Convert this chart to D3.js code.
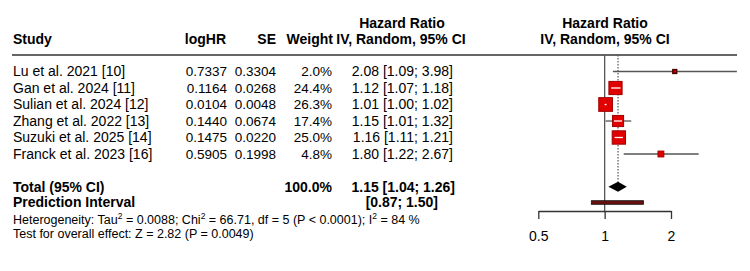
<!DOCTYPE html>
<html><head><meta charset="utf-8">
<script src="https://cdn.jsdelivr.net/npm/d3@7"></script>
<style>
html,body{margin:0;padding:0;background:#fff;}
svg{display:block;font-family:"Liberation Sans",Arial,Helvetica,sans-serif;}
</style></head>
<body><svg id="c" width="750" height="271"></svg>
<script>
const studies = ["Lu et al. 2021 [10]","Gan et al. 2024 [11]","Sulian et al. 2024 [12]","Zhang et al. 2022 [13]","Suzuki et al. 2025 [14]","Franck et al. 2023 [16]"];
const logHR = ["0.7337","0.1164","0.0104","0.1440","0.1475","0.5905"];
const seVals = ["0.3304","0.0268","0.0048","0.0674","0.0220","0.1998"];
const weights = [2.0,24.4,26.3,17.4,25.0,4.8];
const hr = [2.08,1.12,1.01,1.15,1.16,1.80];
const lower = [1.09,1.07,1.00,1.01,1.11,1.22];
const upper = [3.98,1.18,1.02,1.32,1.21,2.67];
const totalEst = [1.15,1.04,1.26];
const predInt = [0.87,1.50];
const totalWeight = "100.0%";
const ticks = [0.5,1,2];
const hetText = ["Heterogeneity: Tau","2"," = 0.0088; Chi","2"," = 66.71, df = 5 (P < 0.0001); I","2"," = 84 %"];
const testText = "Test for overall effect: Z = 2.82 (P = 0.0049)";

const svg = d3.select("#c");
const FS = 14, FN = 13.5, FH = 12.5;
const f2 = d3.format(".2f");
const x = d3.scaleLog().domain([0.5,2]).range([538.3,671]);
const rowY = d3.scaleLinear().domain([0,5]).range([71.5,154]);
const yTotal = 186.7, yPred = 202.5, yHet = 219.5, yTest = 234;
const yAxis = 211;

function txt(xp,yp,s,anchor,bold,size){
  return svg.append("text").attr("x",xp).attr("y",yp).attr("dy","0.35em")
    .attr("text-anchor",anchor||"start").attr("font-weight",bold?"bold":"normal")
    .attr("font-size",size||FS).attr("fill","#000").text(s);
}
// headers
txt(402,23,"Hazard Ratio","middle",true);
txt(13,39,"Study","start",true);
txt(226,39,"logHR","end",true);
txt(276,39,"SE","end",true);
txt(333,39,"Weight","end",true);
txt(401,39,"IV, Random, 95% CI","middle",true);
txt(605,23,"Hazard Ratio","middle",true);
txt(605,39,"IV, Random, 95% CI","middle",true);
svg.append("line").attr("x1",12).attr("x2",737).attr("y1",55).attr("y2",55).attr("stroke","#333").attr("stroke-width",1.4);

// rows
studies.forEach((s,i)=>{
  const y = rowY(i);
  txt(13,y,s);
  txt(227,y,logHR[i],"end",false,FN);
  txt(276,y,seVals[i],"end",false,FN);
  txt(332,y,weights[i].toFixed(1)+"%","end",false,FN);
  txt(453,y,f2(hr[i])+" ["+f2(lower[i])+"; "+f2(upper[i])+"]","end");
});
txt(13,yTotal,"Total (95% CI)","start",true);
txt(332,yTotal,totalWeight,"end",true);
txt(455,yTotal,f2(totalEst[0])+" ["+f2(totalEst[1])+"; "+f2(totalEst[2])+"]","end",true);
txt(13,yPred,"Prediction Interval","start",true);
txt(438,yPred,"["+f2(predInt[0])+"; "+f2(predInt[1])+"]","end",true);

const het = svg.append("text").attr("x",13).attr("y",yHet).attr("dy","0.35em").attr("font-size",FH);
hetText.forEach((t,i)=>{
  const ts = het.append("tspan").text(t);
  if(i%2===1){ ts.attr("font-size",8.5).attr("dy",-5); }
  else if(i>0){ ts.attr("dy",5); }
});
txt(13,yTest,testText,"start",false,FH);

// reference lines
svg.append("line").attr("x1",x(1)).attr("x2",x(1)).attr("y1",55).attr("y2",yAxis).attr("stroke","#555").attr("stroke-width",1.3);
svg.append("line").attr("x1",x(totalEst[0])).attr("x2",x(totalEst[0])).attr("y1",55).attr("y2",yTotal-5)
  .attr("stroke","#555").attr("stroke-width",1.2).attr("stroke-dasharray","1.5,1.5");

// study markers
const maxX = 737;
studies.forEach((s,i)=>{
  const y = rowY(i);
  const xl = x(lower[i]), xh = Math.min(x(upper[i]),maxX), xc = x(hr[i]);
  const side = 2.67*Math.sqrt(weights[i]);
  svg.append("line").attr("x1",xl).attr("x2",xh).attr("y1",y).attr("y2",y).attr("stroke","#555").attr("stroke-width",1.3);
  svg.append("rect").attr("x",xc-side/2).attr("y",y-side/2).attr("width",side).attr("height",side)
    .attr("fill","#e00000").attr("stroke",side<5?"#400000":"#a00000").attr("stroke-width",side<5?1.5:1);
  const wl = Math.max(xl,xc-side/2+1.5), wh = Math.min(xh,xc+side/2-1.5);
  if(side>8) svg.append("line").attr("x1",Math.min(wl,xc-0.6)).attr("x2",Math.max(wh,xc+0.6)).attr("y1",y).attr("y2",y)
    .attr("stroke","#fff").attr("stroke-width",1.3);
});

// diamond
const dh = 5;
svg.append("polygon").attr("points",[[x(totalEst[1]),yTotal],[x(totalEst[0]),yTotal-dh],[x(totalEst[2]),yTotal],[x(totalEst[0]),yTotal+dh]].map(p=>p.join(",")).join(" "))
  .attr("fill","#000");
// prediction interval
svg.append("rect").attr("x",x(predInt[0])).attr("y",yPred-1.8).attr("width",x(predInt[1])-x(predInt[0])).attr("height",3.6)
  .attr("fill","#6b0f0f").attr("stroke","#111").attr("stroke-width",0.8);

// axis
const ax = svg.append("g").attr("transform",`translate(0,${yAxis})`)
  .call(d3.axisBottom(x).tickValues(ticks).tickFormat(d=>String(d)).tickSize(8).tickSizeOuter(0).tickPadding(12));
ax.select(".domain").attr("stroke","#333").attr("stroke-width",1.3);
ax.selectAll(".tick line").attr("stroke","#333").attr("stroke-width",1.3);
ax.selectAll(".tick text").attr("font-size",FS).attr("fill","#000").attr("font-family","Liberation Sans, Arial, sans-serif");
</script></body></html>
